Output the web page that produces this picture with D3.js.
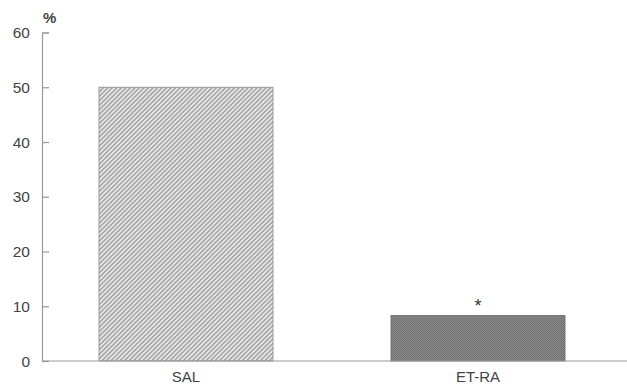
<!DOCTYPE html>
<html>
<head>
<meta charset="utf-8">
<script src="https://cdn.jsdelivr.net/npm/d3@7"></script>
<style>
body { margin: 0; background: #fff; }
svg { display: block; font-family: "Liberation Sans", Arial, sans-serif; }
</style>
</head>
<body>
<svg id="chart" width="627" height="386"></svg>
<script>
// data
var groups = ["SAL", "ET-RA"];
var values = [50, 8.3];
var marks = ["", "*"];
var yTicks = [0, 10, 20, 30, 40, 50, 60];

var svg = d3.select("svg#chart");

var margin = {top: 32.5, left: 42, bottom: 25};
var plotHeight = 386 - margin.top - margin.bottom;

var y = d3.scaleLinear()
    .domain([0, 60])
    .range([margin.top + plotHeight, margin.top]);

var x = d3.scaleBand()
    .domain(groups)
    .range([40, 624])
    .paddingInner(0.404)
    .paddingOuter(0.202);

// patterns for the two bars
var defs = svg.append("defs");
var hatch = defs.append("pattern")
    .attr("id", "hatch")
    .attr("patternUnits", "userSpaceOnUse")
    .attr("width", 3.2)
    .attr("height", 3.2)
    .attr("patternTransform", "rotate(45)");
hatch.append("rect").attr("width", 3.2).attr("height", 3.2).attr("fill", "#e6e6e6");
hatch.append("rect").attr("width", 1.3).attr("height", 3.2).attr("fill", "#9a9a9a");

var dots = defs.append("pattern")
    .attr("id", "dots")
    .attr("patternUnits", "userSpaceOnUse")
    .attr("width", 2)
    .attr("height", 2);
dots.append("rect").attr("width", 2).attr("height", 2).attr("fill", "#8c8c8c");
dots.append("rect").attr("width", 1).attr("height", 1).attr("fill", "#707070");
dots.append("rect").attr("x", 1).attr("y", 1).attr("width", 1).attr("height", 1).attr("fill", "#707070");

// bars
svg.selectAll("rect.bar")
    .data(groups)
    .enter().append("rect")
    .attr("class", "bar")
    .attr("x", function(d) { return x(d); })
    .attr("width", x.bandwidth())
    .attr("y", function(d, i) { return y(values[i]); })
    .attr("height", function(d, i) { return y(0) - y(values[i]); })
    .attr("fill", function(d, i) { return i === 0 ? "url(#hatch)" : "url(#dots)"; })
    .attr("stroke", function(d, i) { return i === 0 ? "#8a8a8a" : "#666"; })
    .attr("stroke-width", 0.8);

// significance marks
svg.selectAll("text.mark")
    .data(groups)
    .enter().append("text")
    .attr("class", "mark")
    .attr("x", function(d) { return x(d) + x.bandwidth() / 2; })
    .attr("y", function(d, i) { return y(values[i]) - 4; })
    .attr("text-anchor", "middle")
    .style("font-size", "18px")
    .style("fill", "#333")
    .text(function(d, i) { return marks[i]; });

// y axis, ticks pointing inward
var yAxis = d3.axisRight(y)
    .tickValues(yTicks)
    .tickSize(7)
    .tickFormat("");
var yGroup = svg.append("g")
    .attr("transform", "translate(" + margin.left + ",0)")
    .call(yAxis);
yGroup.select(".domain").attr("stroke", "#999").attr("stroke-width", 1.2);
yGroup.selectAll(".tick line").attr("stroke", "#999").attr("stroke-width", 1.2);

svg.selectAll("text.ylab")
    .data(yTicks)
    .enter().append("text")
    .attr("class", "ylab")
    .attr("x", 30)
    .attr("y", function(d) { return y(d); })
    .attr("dy", "0.36em")
    .attr("text-anchor", "end")
    .style("font-size", "15.5px")
    .style("fill", "#444")
    .text(function(d) { return d; });

// x axis baseline
svg.append("line")
    .attr("x1", margin.left)
    .attr("x2", 627)
    .attr("y1", y(0))
    .attr("y2", y(0))
    .attr("stroke", "#999")
    .attr("stroke-width", 1.2);

var xAxis = d3.axisBottom(x).tickSize(0);
var xGroup = svg.append("g")
    .attr("transform", "translate(0," + y(0) + ")")
    .call(xAxis);
xGroup.select(".domain").remove();
xGroup.selectAll("text")
    .attr("dy", "0")
    .attr("y", 21)
    .style("font-size", "15px")
    .style("font-family", "Liberation Sans, Arial, sans-serif")
    .style("fill", "#444");

// unit label
svg.append("text")
    .attr("x", 43)
    .attr("y", 23)
    .style("font-size", "15px")
    .style("font-weight", "bold")
    .style("fill", "#444")
    .text("%");
</script>
</body>
</html>
